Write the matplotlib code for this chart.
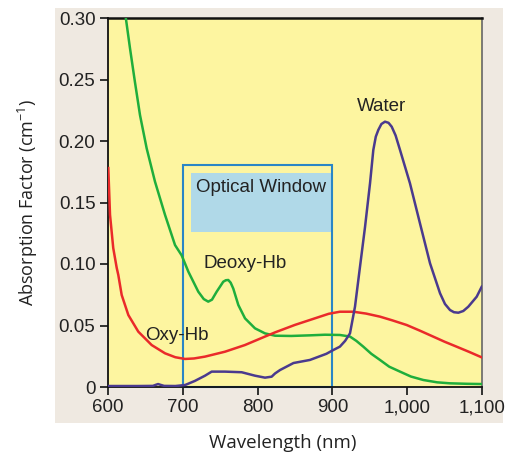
import matplotlib
matplotlib.use('Agg')
import matplotlib.pyplot as plt
from matplotlib.patches import Rectangle
from matplotlib.ticker import FuncFormatter

# Deoxy-Hb (green)
deoxy_wl = [623.6, 629.4, 636, 642.8, 651.7, 662.8, 676.2, 689.6, 698.5, 707.4, 720.7, 728, 734,
            739, 745.3, 754.1, 757.5, 760.8, 764, 767.5, 774.2, 783.2, 796.5, 809.9, 823.3, 845,
            870, 890, 910, 923.5, 932, 941.3, 952, 963.6, 976, 990.4, 1005, 1021.5, 1040, 1057,
            1080, 1100]
deoxy_abs = [0.301, 0.2754, 0.248, 0.221, 0.194, 0.167, 0.140, 0.1154, 0.107, 0.0938, 0.0775,
             0.0715, 0.0694, 0.071, 0.0775, 0.0856, 0.0868, 0.087, 0.0848, 0.080, 0.0667, 0.0558,
             0.0477, 0.0436, 0.0417, 0.0415, 0.042, 0.0425, 0.0423, 0.041, 0.0375, 0.0328,
             0.027, 0.022, 0.0165, 0.0125, 0.0085, 0.0057, 0.0038, 0.003, 0.0026, 0.0024]

# Oxy-Hb (red)
oxy_wl = [600.4, 602.7, 607, 611.6, 613.8, 618.3, 627.2, 640.5, 658.4, 676.2, 690, 703, 715,
          729.7, 756.4, 783, 809.9, 823.3, 850, 880, 895, 910, 928, 945, 963.6, 980, 999.3,
          1017, 1035, 1050, 1066, 1083, 1099.6]
oxy_abs = [0.178, 0.140, 0.113, 0.097, 0.091, 0.0748, 0.0585, 0.045, 0.0341, 0.0274, 0.0242,
           0.0228, 0.0232, 0.0247, 0.0287, 0.0341, 0.041, 0.0444, 0.0505, 0.0565, 0.0595,
           0.0612, 0.0612, 0.0597, 0.0572, 0.0542, 0.0504, 0.0458, 0.0409, 0.0368, 0.0328,
           0.0285, 0.0241]

# Water (purple)
water_wl = [600, 640, 660, 664, 667, 670, 675, 690, 703, 716, 729.7, 738.6, 756.4, 778.7,
            796.5, 809.9, 818.8, 823.3, 830, 848, 870, 892, 901, 910, 917, 923.5, 930.2, 936.9,
            943.6, 950.3, 954.7, 958, 961.4, 965.5, 970.3, 975, 979.3, 984.5, 990.4, 1003.7,
            1017.1, 1030.5, 1043.9, 1050.5, 1057.2, 1062.5, 1068.4, 1075, 1081.7, 1092.9, 1099.6]
water_abs = [0.0008, 0.0008, 0.0009, 0.0018, 0.0024, 0.0018, 0.0009, 0.0008, 0.0016, 0.0049,
             0.0092, 0.0125, 0.0125, 0.012, 0.0092, 0.0076, 0.0084, 0.011, 0.0138, 0.0195,
             0.022, 0.027, 0.030, 0.0328, 0.0375, 0.0436, 0.0653, 0.0978, 0.130, 0.1656,
             0.1927, 0.2035, 0.209, 0.2138, 0.2157, 0.2148, 0.2116, 0.2045, 0.1927, 0.1656,
             0.133, 0.1006, 0.0762, 0.0675, 0.0626, 0.0608, 0.0604, 0.0618, 0.0653, 0.0734,
             0.0815]

x_ticks = [600, 700, 800, 900, 1000, 1100]
y_ticks = [0, 0.05, 0.10, 0.15, 0.20, 0.25, 0.30]

window_lo, window_hi = 700, 900

plt.rcParams['font.family'] = ['Liberation Sans', 'DejaVu Sans']

fig = plt.figure(figsize=(5.06, 4.61), dpi=100)

# beige panel behind the plot
fig.patches.append(Rectangle((55 / 506, 1 - 423 / 461), 448 / 506, 415 / 461,
                             transform=fig.transFigure, facecolor='#efe9e1',
                             edgecolor='none', zorder=-5))

ax = fig.add_axes([108 / 506, 1 - 387 / 461, 374 / 506, 369 / 461])
ax.set_zorder(2)
ax.set_facecolor('#fdf5a0')
ax.set_xlim(600, 1100)
ax.set_ylim(0, 0.30)

# optical window
ax.add_patch(Rectangle((711, 0.126), 188, 0.048, facecolor='#b0d9e8', edgecolor='none', zorder=1))
ax.add_patch(Rectangle((window_lo, 0), window_hi - window_lo, 0.1805, fill=False,
                       edgecolor='#2a86c6', lw=1.5, zorder=2, clip_on=False))
ax.text(805, 0.162, 'Optical Window', ha='center', va='center', fontsize=13.5, color='#222222', zorder=3)

ax.plot(deoxy_wl, deoxy_abs, color='#1fae3c', lw=1.8, zorder=4, solid_joinstyle='round')
ax.plot(oxy_wl, oxy_abs, color='#ea2a2a', lw=1.8, zorder=4, solid_joinstyle='round')
ax.plot(water_wl, water_abs, color='#4a3a8e', lw=1.8, zorder=5, solid_joinstyle='round')

ax.text(966, 0.228, 'Water', ha='center', va='center', fontsize=13.5, color='#222222')
ax.text(783, 0.1008, 'Deoxy-Hb', ha='center', va='center', fontsize=13.5, color='#222222')
ax.text(692, 0.042, 'Oxy-Hb', ha='center', va='center', fontsize=13.5, color='#222222')

ax.set_xticks(x_ticks)
ax.set_yticks(y_ticks)
ax.xaxis.set_major_formatter(FuncFormatter(lambda v, p: f'{int(v):,}'))
ax.yaxis.set_major_formatter(FuncFormatter(lambda v, p: '0' if v == 0 else f'{v:.2f}'))
ax.tick_params(direction='out', length=6, width=1.3, labelsize=13.5, colors='#222222', pad=3)

for side in ['left', 'bottom', 'top']:
    ax.spines[side].set_color('#111111')
    ax.spines[side].set_linewidth(1.3)
ax.spines['top'].set_linewidth(1.8)
ax.spines['right'].set_color('#666666')
ax.spines['right'].set_linewidth(1.2)

ax.set_xlabel('Wavelength (nm)', fontsize=13.5, family='Open Sans', color='#222222')
ax.set_ylabel('Absorption Factor (cm$^{\\mathregular{-1}}$)', fontsize=13, family='Open Sans',
              color='#222222')
ax.xaxis.set_label_coords(0.468, -0.128)
ax.yaxis.set_label_coords(-0.182, 0.5)

fig.savefig('out.png', dpi=100)
